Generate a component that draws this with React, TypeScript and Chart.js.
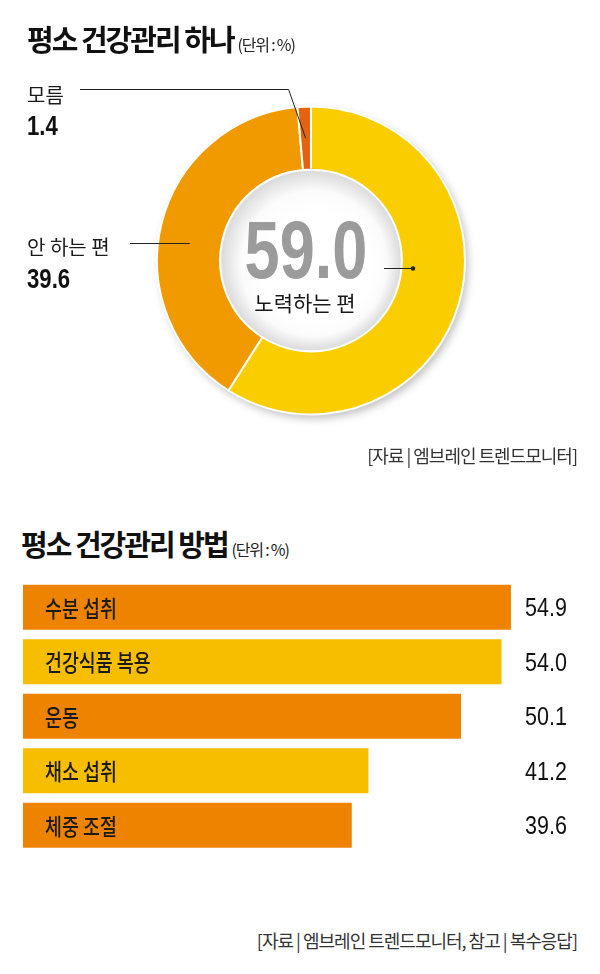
import React, { useEffect, useRef } from "react";
import { Chart, registerables } from "chart.js";

Chart.register(...registerables);

// ---------- data ----------
const title1 = "평소 건강관리 하나";
const title2 = "평소 건강관리 방법";
const unitText = "(단위 : %)";
const source1 = "[자료 | 엠브레인 트렌드모니터]";
const source2 = "[자료 | 엠브레인 트렌드모니터, 참고 | 복수응답]";

const donutLabels = ["노력하는 편", "안 하는 편", "모름"];
const donutValues = [59.0, 39.6, 1.4];
const donutColors = ["#F9CD00", "#F09A00", "#E5620F"];

const barLabels = ["수분 섭취", "건강식품 복용", "운동", "채소 섭취", "체중 조절"];
const barValues = [54.9, 54.0, 50.1, 41.2, 39.6];
const barColors = ["#EE8300", "#F7BE00", "#EE8300", "#F7BE00", "#EE8300"];

const KR = '"Noto Sans CJK KR", "Noto Sans", sans-serif';
const NUM = '"Liberation Sans", Arial, sans-serif';

function drawText(
  ctx: CanvasRenderingContext2D,
  text: string,
  x: number,
  y: number,
  font: string,
  color: string,
  align: CanvasTextAlign,
  baseline: CanvasTextBaseline,
  sx: number
) {
  ctx.save();
  ctx.font = font;
  ctx.fillStyle = color;
  ctx.textAlign = align;
  ctx.textBaseline = baseline;
  ctx.translate(x, y);
  ctx.scale(sx, 1);
  ctx.fillText(text, 0, 0);
  ctx.restore();
}

const donutDecor = {
  id: "donutDecor",
  beforeDatasetsDraw(chart: any) {
    const arc = chart.getDatasetMeta(0).data[0];
    const { x, y, outerRadius } = arc.getProps(["x", "y", "outerRadius"], true);
    const ctx = chart.ctx as CanvasRenderingContext2D;
    ctx.save();
    ctx.shadowColor = "rgba(0,0,0,0.25)";
    ctx.shadowBlur = 9;
    ctx.shadowOffsetX = 3;
    ctx.shadowOffsetY = 4;
    ctx.beginPath();
    ctx.arc(x, y, outerRadius, 0, Math.PI * 2);
    ctx.fillStyle = "#ffffff";
    ctx.fill();
    ctx.restore();
  },
  afterDatasetsDraw(chart: any) {
    const meta = chart.getDatasetMeta(0);
    const arc = meta.data[0];
    const { x, y, innerRadius, outerRadius } = arc.getProps(
      ["x", "y", "innerRadius", "outerRadius"],
      true
    );
    const ctx = chart.ctx as CanvasRenderingContext2D;
    const midR = (innerRadius + outerRadius) / 2;

    // hole with soft inner shadow
    ctx.save();
    const g = ctx.createRadialGradient(x + 6, y + 6, innerRadius * 0.6, x, y, innerRadius);
    g.addColorStop(0, "#ffffff");
    g.addColorStop(0.5, "#fbfbfb");
    g.addColorStop(1, "#d9d9d9");
    ctx.beginPath();
    ctx.arc(x, y, innerRadius - 1, 0, Math.PI * 2);
    ctx.fillStyle = g;
    ctx.fill();
    ctx.restore();

    // center value + label
    drawText(ctx, donutValues[0].toFixed(1), x - 5, y + 17, `bold 82px ${NUM}`, "#9b9b9b", "center", "alphabetic", 0.77);
    drawText(ctx, donutLabels[0], x - 6, y + 43, `21px ${KR}`, "#1a1a1a", "center", "middle", 1);

    ctx.save();
    ctx.strokeStyle = "#222";
    ctx.fillStyle = "#222";
    ctx.lineWidth = 1;
    // leader for main slice
    ctx.beginPath();
    ctx.moveTo(x + 73, y + 8);
    ctx.lineTo(x + 102, y + 8);
    ctx.stroke();
    ctx.beginPath();
    ctx.arc(x + 102, y + 8, 2.2, 0, Math.PI * 2);
    ctx.fill();

    // leader for "모름"
    const small = meta.data[2].tooltipPosition();
    const elbowY = 89.5;
    ctx.beginPath();
    ctx.moveTo(80, elbowY);
    ctx.lineTo(small.x - 17, elbowY);
    ctx.lineTo(small.x, small.y);
    ctx.stroke();

    // leader for "안 하는 편"
    const ly = 243.5;
    const dy = ly - y;
    const lx = x - Math.sqrt(midR * midR - dy * dy);
    ctx.beginPath();
    ctx.moveTo(130, ly);
    ctx.lineTo(lx, ly);
    ctx.stroke();
    ctx.restore();

    // side labels
    drawText(ctx, donutLabels[2], 27, 95, `20px ${KR}`, "#1a1a1a", "left", "middle", 1);
    drawText(ctx, donutValues[2].toFixed(1), 27, 135, `bold 27px ${NUM}`, "#111", "left", "alphabetic", 0.82);
    drawText(ctx, donutLabels[1], 27, 247, `20px ${KR}`, "#1a1a1a", "left", "middle", 1);
    drawText(ctx, donutValues[1].toFixed(1), 27, 288, `bold 27px ${NUM}`, "#111", "left", "alphabetic", 0.82);
  },
};

const VALUE_X = 525;

const barDecor = {
  id: "barDecor",
  afterDatasetsDraw(chart: any) {
    const ctx = chart.ctx as CanvasRenderingContext2D;
    const meta = chart.getDatasetMeta(0);
    const left = chart.chartArea.left;
    meta.data.forEach((bar: any, i: number) => {
      const { y } = bar.getProps(["y"], true);
      drawText(ctx, barLabels[i], left + 22, y + 1, `500 23px ${KR}`, "#1a1a1a", "left", "middle", 0.8);
      drawText(ctx, barValues[i].toFixed(1), VALUE_X, y + 9, `25px ${NUM}`, "#111", "left", "alphabetic", 0.86);
    });
  },
};

function Donut() {
  const ref = useRef<HTMLCanvasElement>(null);
  useEffect(() => {
    const chart = new Chart(ref.current!, {
      type: "doughnut",
      data: {
        labels: donutLabels,
        datasets: [
          {
            data: donutValues,
            backgroundColor: donutColors,
            borderColor: "#ffffff",
            borderWidth: 2,
            radius: 154,
            cutout: "59%",
          } as any,
        ],
      },
      options: {
        responsive: false,
        animation: false,
        events: [],
        layout: { padding: { left: 22, right: 0, top: 41, bottom: 0 } },
        plugins: { legend: { display: false }, tooltip: { enabled: false } },
      },
      plugins: [donutDecor],
    });
    return () => chart.destroy();
  }, []);
  return (
    <canvas
      ref={ref}
      width={600}
      height={480}
      style={{ position: "absolute", left: 0, top: 0, width: 600, height: 480 }}
    />
  );
}

function Bars() {
  const ref = useRef<HTMLCanvasElement>(null);
  useEffect(() => {
    const chart = new Chart(ref.current!, {
      type: "bar",
      data: {
        labels: barLabels,
        datasets: [
          {
            data: barValues,
            backgroundColor: barColors,
            borderWidth: 0,
            categoryPercentage: 1,
            barPercentage: 0.826,
          },
        ],
      },
      options: {
        indexAxis: "y",
        responsive: false,
        animation: false,
        events: [],
        layout: { padding: { left: 23, right: 36, top: 10, bottom: 7.5 } },
        scales: {
          x: { display: false, min: 8, max: 60 },
          y: { display: false },
        },
        plugins: { legend: { display: false }, tooltip: { enabled: false } },
      },
      plugins: [barDecor],
    });
    return () => chart.destroy();
  }, []);
  return (
    <canvas
      ref={ref}
      width={600}
      height={290}
      style={{ position: "absolute", left: 0, top: 570, width: 600, height: 290 }}
    />
  );
}

const titleStyle: React.CSSProperties = {
  position: "absolute",
  fontFamily: KR,
  fontWeight: 700,
  fontSize: 29,
  letterSpacing: "-2px",
  lineHeight: "36px",
  color: "#111",
  whiteSpace: "nowrap",
};
const unitStyle: React.CSSProperties = {
  fontSize: 16,
  fontWeight: 400,
  letterSpacing: "-1.2px",
  marginLeft: 4,
  color: "#222",
};
const sourceStyle: React.CSSProperties = {
  position: "absolute",
  right: 23,
  fontFamily: KR,
  fontSize: 18,
  lineHeight: "24px",
  letterSpacing: "-1px",
  color: "#333",
  whiteSpace: "nowrap",
};

export default function App() {
  return (
    <div
      style={{
        position: "absolute",
        left: 0,
        top: 0,
        width: 600,
        height: 974,
        background: "#fff",
        overflow: "hidden",
      }}
    >
      <Donut />
      <Bars />
      <div style={{ ...titleStyle, left: 27, top: 20 }}>
        {title1}
        <span style={unitStyle}>{unitText}</span>
      </div>
      <div style={{ ...sourceStyle, top: 443 }}>{source1}</div>
      <div style={{ ...titleStyle, left: 21, top: 525 }}>
        {title2}
        <span style={unitStyle}>{unitText}</span>
      </div>
      <div style={{ ...sourceStyle, top: 928 }}>{source2}</div>
    </div>
  );
}
